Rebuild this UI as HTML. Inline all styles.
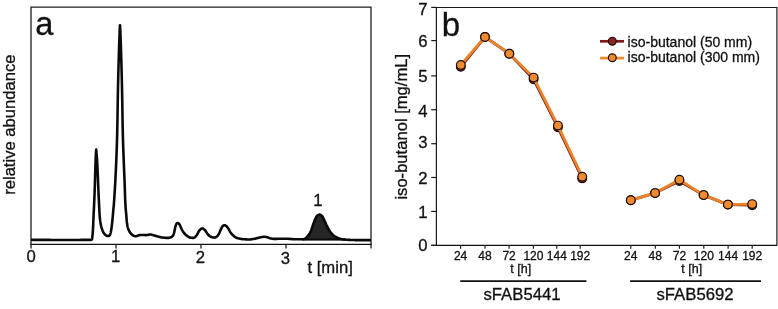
<!DOCTYPE html><html><head><meta charset="utf-8"><style>html,body{margin:0;padding:0;background:#fff;overflow:hidden}svg{display:block}text{stroke:#111;stroke-width:0.3px}</style></head><body>
<div style="will-change:transform;width:778px;height:309px"><svg width="778" height="309" viewBox="0 0 778 309" font-family="Liberation Sans"><g>
<rect width="778" height="309" fill="#fff"/>
<path d="M31,244.4 V7.2 H371 V244.4" fill="none" stroke="#1e1e1e" stroke-width="1.3"/>
<path d="M30.4,244.4 H371.6" stroke="#111" stroke-width="1.1"/>
<path d="M31,244 V248.6" stroke="#1e1e1e" stroke-width="1.3"/>
<path d="M116,244 V248.6" stroke="#1e1e1e" stroke-width="1.3"/>
<path d="M201,244 V248.6" stroke="#1e1e1e" stroke-width="1.3"/>
<path d="M286,244 V248.6" stroke="#1e1e1e" stroke-width="1.3"/>
<path d="M371,244 V248.6" stroke="#1e1e1e" stroke-width="1.3"/>
<text x="31.2" y="262" font-size="16.7" text-anchor="middle" fill="#111">0</text>
<text x="115.6" y="262.2" font-size="16.7" text-anchor="middle" fill="#111">1</text>
<text x="200.3" y="262.8" font-size="16.7" text-anchor="middle" fill="#111">2</text>
<text x="285.3" y="263.6" font-size="16.7" text-anchor="middle" fill="#111">3</text>
<text x="307.4" y="272.6" font-size="16.7" fill="#111">t [min]</text>
<text transform="translate(14.9,194.8) rotate(-90)" font-size="16.6" fill="#111">relative abundance</text>
<text x="35.2" y="35" font-size="32.6" fill="#111">a</text>
<path d="M301,240.3 L301,239.3 L301.5,239.3 L302,239.3 L302.5,239.3 L303,239.2 L303.5,239.2 L304,239.1 L304.5,238.9 L305,238.7 L305.5,238.4 L306,238 L306.5,237.5 L307,237 L307.5,236.4 L308,235.8 L308.5,235.2 L309,234.5 L309.5,233.8 L310,232.9 L310.5,231.9 L311,230.8 L311.5,229.5 L312,228 L312.5,226.4 L313,224.9 L313.5,223.5 L314,222.1 L314.5,220.8 L315,219.5 L315.5,218.5 L316,217.5 L316.5,216.6 L317,215.9 L317.5,215.5 L318,215.1 L318.5,214.9 L319,214.7 L319.5,214.6 L320,214.6 L320.5,214.8 L321,215.1 L321.5,215.5 L322,215.9 L322.5,216.6 L323,217.6 L323.5,218.6 L324,219.6 L324.5,220.7 L325,221.8 L325.5,222.9 L326,224 L326.5,225.1 L327,226.1 L327.5,227.1 L328,228.1 L328.5,229 L329,229.9 L329.5,230.7 L330,231.5 L330.5,232.2 L331,232.9 L331.5,233.5 L332,234 L332.5,234.5 L333,235 L333.5,235.4 L334,235.8 L334.5,236.1 L335,236.5 L335.5,236.8 L336,237 L336.5,237.3 L337,237.6 L337.5,237.8 L338,238 L338.5,238.2 L339,238.4 L339.5,238.6 L340,238.7 L340.5,238.9 L341,239 L341.5,239.1 L342,239.2 L342.5,239.3 L343,239.4 L343.5,239.4 L344,239.5 L344.5,239.5 L345,239.6 L345.5,239.6 L346,239.7 L346.5,239.7 L347,239.8 L347.5,239.8 L348,239.8 L348.5,239.9 L349,239.9 L349.5,239.9 L350,239.9 L350.5,240 L351,240 L351.5,240 L352,240 L352.5,240 L353,240 L353.5,240 L354,240 L354.5,240 L355,240.1 L355.5,240.1 L356,240.3 Z" fill="#262626"/>
<path d="M303,239.6 H346" stroke="#0a0a0a" stroke-width="2"/>
<path d="M31,239.8 L34,239.9 L37,239.9 L40,239.9 L43,239.9 L46,239.9 L49,239.9 L52,240 L55,240 L58,240 L61,240 L64,240 L67,240 L70,240 L73,240 L76,240 L79,240 L82,239.9 L85,239.9 L88,239.9 L91,239.9 L91.2,239.9 L91.4,239.8 L91.6,239.7 L91.8,239.5 L92,239.2 L92.2,238.2 L92.4,236.5 L92.6,234.4 L92.8,231.8 L93,228.6 L93.2,224.5 L93.4,219.7 L93.6,215 L93.8,210.7 L94,206.6 L94.2,202.3 L94.4,197.6 L94.6,192.6 L94.8,187 L95,180.3 L95.2,173.3 L95.4,166.5 L95.6,160.7 L95.8,155.9 L96,152.1 L96.2,149.6 L96.4,151.7 L96.6,154.6 L96.8,156.9 L97,159.2 L97.2,162 L97.4,165.7 L97.6,170.2 L97.8,175.1 L98,180 L98.2,185 L98.4,190.2 L98.6,195 L98.8,199.2 L99,203 L99.2,207.1 L99.4,211.5 L99.6,215 L99.8,217.3 L100,219.2 L100.2,220.9 L100.4,222.3 L100.6,223.5 L100.8,224.6 L101,225.6 L101.2,226.5 L101.4,227.2 L101.6,228 L101.8,228.6 L102,229.2 L102.2,229.7 L102.4,230.3 L102.6,230.8 L102.8,231.2 L103,231.6 L103.2,232 L103.4,232.4 L103.6,232.7 L103.8,233.1 L104,233.3 L104.2,233.6 L104.4,233.9 L104.6,234.1 L104.8,234.3 L105,234.6 L105.2,234.7 L105.4,234.9 L105.6,235.1 L105.8,235.2 L106,235.4 L106.2,235.5 L106.4,235.7 L106.6,235.8 L106.8,235.9 L107,235.9 L107.2,235.9 L107.4,235.9 L107.6,236 L107.8,236 L108,236 L108.2,236 L108.4,236 L108.6,236 L108.8,235.9 L109,235.8 L109.2,235.6 L109.4,235.5 L109.6,235.3 L109.8,235.1 L110,234.7 L110.2,234.2 L110.4,233.7 L110.6,233.1 L110.8,232.3 L111,231.2 L111.2,230 L111.4,228.7 L111.6,227.2 L111.8,225.7 L112,224 L112.2,222.2 L112.4,220.3 L112.6,218.3 L112.8,216.1 L113,213.8 L113.2,211.2 L113.4,209 L113.6,207.1 L113.8,205 L114,202.5 L114.2,199.6 L114.4,196.5 L114.6,193.4 L114.8,190.2 L115,186.8 L115.2,183.2 L115.4,179.4 L115.6,175.5 L115.8,171.4 L116,167 L116.2,162.4 L116.4,157.5 L116.6,152.4 L116.8,146.8 L117,140.5 L117.2,132.9 L117.4,122.8 L117.6,110.8 L117.8,97.9 L118,87.3 L118.2,78.6 L118.4,70.8 L118.6,63.6 L118.8,56.5 L119,49.7 L119.2,43.5 L119.4,38.1 L119.6,32.8 L119.8,28 L120,25.2 L120.2,28 L120.4,32.8 L120.6,38.1 L120.8,43.5 L121,49.7 L121.2,56.5 L121.4,63.6 L121.6,70.8 L121.8,78.6 L122,87.3 L122.2,97.9 L122.4,110.8 L122.6,122.8 L122.8,132.9 L123,140.4 L123.2,146.6 L123.4,152.1 L123.6,157.3 L123.8,162.6 L124,167.6 L124.2,172.4 L124.4,177.3 L124.6,182.3 L124.8,188 L125,194.5 L125.2,200 L125.4,204 L125.6,207.3 L125.8,210 L126,212.1 L126.2,213.9 L126.4,216.3 L126.6,219.3 L126.8,221.7 L127,223.3 L127.2,224.6 L127.4,225.7 L127.6,226.6 L127.8,227.4 L128,228.1 L128.2,228.7 L128.4,229.3 L128.6,229.7 L128.8,230.2 L129,230.6 L129.2,231 L129.4,231.4 L129.6,231.8 L129.8,232.1 L130,232.5 L130.2,232.7 L130.4,233 L130.6,233.3 L130.8,233.5 L131,233.7 L131.2,234 L131.4,234.2 L131.6,234.4 L131.8,234.5 L132,234.7 L132.2,234.9 L132.4,235 L132.6,235.2 L132.8,235.3 L133,235.4 L133.2,235.5 L133.4,235.6 L133.6,235.7 L133.8,235.8 L134,235.9 L134.2,236 L134.4,236.1 L134.6,236.2 L134.8,236.2 L135,236.3 L135.2,236.3 L135.4,236.3 L135.6,236.3 L135.8,236.3 L136,236.2 L136.5,236.1 L137,235.9 L137.5,235.8 L138,235.6 L138.5,235.3 L139,235.2 L139.5,235.1 L140,235.1 L140.5,235 L141,235 L141.5,235 L142,235 L142.5,235 L143,235 L143.5,235 L144,235 L144.5,235 L145,235.1 L145.5,235.1 L146,235.1 L146.5,235.1 L147,235 L147.5,235 L148,234.9 L148.5,234.7 L149,234.6 L149.5,234.6 L150,234.5 L150.5,234.5 L151,234.6 L151.5,234.7 L152,234.8 L152.5,234.9 L153,235.1 L153.5,235.3 L154,235.4 L154.5,235.5 L155,235.7 L155.5,235.8 L156,236 L156.5,236.1 L157,236.3 L157.5,236.4 L158,236.6 L158.5,236.7 L159,236.8 L159.5,236.9 L160,237 L160.5,237.2 L161,237.3 L161.5,237.4 L162,237.5 L162.5,237.5 L163,237.6 L163.5,237.7 L164,237.7 L164.5,237.8 L165,237.8 L165.5,237.8 L166,237.9 L166.5,237.9 L167,237.9 L167.5,237.9 L168,237.9 L168.5,237.9 L169,237.8 L169.5,237.7 L170,237.6 L170.5,237.5 L171,237.3 L171.5,237.1 L172,236.7 L172.5,236.2 L173,235.5 L173.5,234.6 L174,233.3 L174.5,230.9 L175,228.3 L175.5,226.3 L176,224.8 L176.5,223.7 L177,223.3 L177.5,223 L178,223.1 L178.5,223.3 L179,223.7 L179.5,224.4 L180,225.3 L180.5,226.6 L181,227.9 L181.5,228.9 L182,229.8 L182.5,230.7 L183,231.5 L183.5,232.2 L184,232.9 L184.5,233.5 L185,234 L185.5,234.6 L186,235.1 L186.5,235.5 L187,235.9 L187.5,236.2 L188,236.5 L188.5,236.8 L189,237.1 L189.5,237.4 L190,237.5 L190.5,237.7 L191,237.7 L191.5,237.8 L192,237.8 L192.5,237.9 L193,237.9 L193.5,237.9 L194,237.8 L194.5,237.6 L195,237.2 L195.5,236.7 L196,236.1 L196.5,235.5 L197,234.8 L197.5,234 L198,232.9 L198.5,231.9 L199,230.9 L199.5,230.3 L200,229.8 L200.5,229.3 L201,228.8 L201.5,228.5 L202,228.4 L202.5,228.5 L203,228.6 L203.5,229 L204,229.3 L204.5,229.7 L205,230.2 L205.5,230.8 L206,231.6 L206.5,232.4 L207,233.2 L207.5,233.9 L208,234.5 L208.5,235 L209,235.5 L209.5,236 L210,236.3 L210.5,236.6 L211,236.8 L211.5,237.1 L212,237.2 L212.5,237.3 L213,237.4 L213.5,237.5 L214,237.6 L214.5,237.6 L215,237.5 L215.5,237.4 L216,237.1 L216.5,236.8 L217,236.4 L217.5,235.9 L218,235.2 L218.5,234.5 L219,233.6 L219.5,232.5 L220,231.3 L220.5,230.2 L221,229.2 L221.5,228 L222,227 L222.5,226.3 L223,225.9 L223.5,225.5 L224,225.3 L224.5,225.2 L225,225.3 L225.5,225.5 L226,225.8 L226.5,226.2 L227,226.8 L227.5,227.4 L228,228.1 L228.5,228.9 L229,229.8 L229.5,230.7 L230,231.6 L230.5,232.4 L231,233.1 L231.5,233.7 L232,234.3 L232.5,234.8 L233,235.3 L233.5,235.7 L234,236.2 L234.5,236.6 L235,236.9 L235.5,237.3 L236,237.6 L236.5,237.8 L237,238 L237.5,238.1 L238,238.3 L238.5,238.4 L239,238.5 L239.5,238.6 L240,238.7 L240.5,238.8 L241,238.9 L241.5,239 L242,239.1 L242.5,239.1 L243,239.2 L243.5,239.2 L244,239.2 L244.5,239.3 L245,239.3 L245.5,239.3 L246,239.4 L246.5,239.4 L247,239.4 L247.5,239.5 L248,239.5 L248.5,239.5 L249,239.5 L249.5,239.5 L250,239.5 L250.5,239.4 L251,239.4 L251.5,239.3 L252,239.2 L252.5,239.1 L253,239 L253.5,239 L254,238.9 L254.5,238.8 L255,238.7 L255.5,238.5 L256,238.4 L256.5,238.3 L257,238.2 L257.5,238 L258,237.9 L258.5,237.8 L259,237.7 L259.5,237.5 L260,237.4 L260.5,237.3 L261,237.2 L261.5,237.1 L262,237 L262.5,237 L263,236.9 L263.5,236.8 L264,236.8 L264.5,236.8 L265,236.8 L265.5,236.9 L266,237 L266.5,237.1 L267,237.2 L267.5,237.3 L268,237.5 L268.5,237.7 L269,237.9 L269.5,238.1 L270,238.3 L270.5,238.4 L271,238.5 L271.5,238.6 L272,238.7 L272.5,238.8 L273,238.8 L273.5,238.9 L274,238.9 L274.5,238.9 L275,238.9 L275.5,238.9 L276,238.9 L276.5,238.9 L277,238.9 L277.5,238.8 L278,238.8 L278.5,238.8 L279,238.8 L279.5,238.8 L280,238.8 L280.5,238.8 L281,238.8 L281.5,238.8 L282,238.8 L282.5,238.8 L283,238.8 L283.5,238.8 L284,238.8 L284.5,238.8 L285,238.8 L285.5,238.8 L286,238.8 L286.5,238.8 L287,238.8 L287.5,238.8 L288,238.8 L288.5,238.8 L289,238.9 L289.5,238.9 L290,238.9 L290.5,239 L291,239 L291.5,239.1 L292,239.1 L292.5,239.1 L293,239.2 L293.5,239.2 L294,239.2 L294.5,239.2 L295,239.2 L295.5,239.2 L296,239.2 L296.5,239.3 L297,239.3 L297.5,239.3 L298,239.3 L298.5,239.3 L299,239.3 L299.5,239.3 L300,239.3 L300.5,239.3 L301,239.3 L301.5,239.3 L302,239.3 L302.5,239.3 L303,239.2 L303.5,239.2 L304,239.1 L304.5,238.9 L305,238.7 L305.5,238.4 L306,238 L306.5,237.5 L307,237 L307.5,236.4 L308,235.8 L308.5,235.2 L309,234.5 L309.5,233.8 L310,232.9 L310.5,231.9 L311,230.8 L311.5,229.5 L312,228 L312.5,226.4 L313,224.9 L313.5,223.5 L314,222.1 L314.5,220.8 L315,219.5 L315.5,218.5 L316,217.5 L316.5,216.6 L317,215.9 L317.5,215.5 L318,215.1 L318.5,214.9 L319,214.7 L319.5,214.6 L320,214.6 L320.5,214.8 L321,215.1 L321.5,215.5 L322,215.9 L322.5,216.6 L323,217.6 L323.5,218.6 L324,219.6 L324.5,220.7 L325,221.8 L325.5,222.9 L326,224 L326.5,225.1 L327,226.1 L327.5,227.1 L328,228.1 L328.5,229 L329,229.9 L329.5,230.7 L330,231.5 L330.5,232.2 L331,232.9 L331.5,233.5 L332,234 L332.5,234.5 L333,235 L333.5,235.4 L334,235.8 L334.5,236.1 L335,236.5 L335.5,236.8 L336,237 L336.5,237.3 L337,237.6 L337.5,237.8 L338,238 L338.5,238.2 L339,238.4 L339.5,238.6 L340,238.7 L340.5,238.9 L341,239 L341.5,239.1 L342,239.2 L342.5,239.3 L343,239.4 L343.5,239.4 L344,239.5 L344.5,239.5 L345,239.6 L345.5,239.6 L346,239.7 L346.5,239.7 L347,239.8 L347.5,239.8 L348,239.8 L348.5,239.9 L349,239.9 L349.5,239.9 L350,239.9 L350.5,240 L351,240 L351.5,240 L352,240 L352.5,240 L353,240 L353.5,240 L354,240 L354.5,240 L355,240.1 L355.5,240.1 L356,240.1 L356.5,240.1 L357,240.1 L357.5,240.1 L358,240.1 L358.5,240.1 L359,240.1 L359.5,240.1 L360,240.1 L360.5,240.1 L361,240.1 L361.5,240.1 L362,240.1 L362.5,240.1 L363,240.1 L363.5,240.1 L364,240.1 L364.5,240.1 L365,240.1 L365.5,240.1 L366,240.1 L366.5,240.1 L367,240.1 L367.5,240.1 L368,240.1 L368.5,240.1 L369,240.1 L369.5,240.1 L370,240.1 L370.5,240.1 L371,240.1" fill="none" stroke="#0a0a0a" stroke-width="2.6" stroke-linejoin="round"/>
<text x="318" y="206" font-size="16.7" text-anchor="middle" fill="#111">1</text>
<path d="M436.4,245 V7.5 H776.9 V245" fill="none" stroke="#1a1a1a" stroke-width="1.2"/>
<path d="M431.2,245.3 H777.2" stroke="#111" stroke-width="1.2"/>
<path d="M431.2,245.4 H436.4" stroke="#1a1a1a" stroke-width="1.2"/>
<text x="427.6" y="251.4" font-size="16.7" text-anchor="end" fill="#111">0</text>
<path d="M431.2,211.4 H436.4" stroke="#1a1a1a" stroke-width="1.2"/>
<text x="427.6" y="217.9" font-size="16.7" text-anchor="end" fill="#111">1</text>
<path d="M431.2,177.5 H436.4" stroke="#1a1a1a" stroke-width="1.2"/>
<text x="427.6" y="183.9" font-size="16.7" text-anchor="end" fill="#111">2</text>
<path d="M431.2,143.7 H436.4" stroke="#1a1a1a" stroke-width="1.2"/>
<text x="427.6" y="147.6" font-size="16.7" text-anchor="end" fill="#111">3</text>
<path d="M431.2,109.7 H436.4" stroke="#1a1a1a" stroke-width="1.2"/>
<text x="427.6" y="116.6" font-size="16.7" text-anchor="end" fill="#111">4</text>
<path d="M431.2,75.9 H436.4" stroke="#1a1a1a" stroke-width="1.2"/>
<text x="427.6" y="81.8" font-size="16.7" text-anchor="end" fill="#111">5</text>
<path d="M431.2,40.6 H436.4" stroke="#1a1a1a" stroke-width="1.2"/>
<text x="427.6" y="46.7" font-size="16.7" text-anchor="end" fill="#111">6</text>
<path d="M431.2,7.4 H436.4" stroke="#1a1a1a" stroke-width="1.2"/>
<text x="427.6" y="14.9" font-size="16.7" text-anchor="end" fill="#111">7</text>
<text transform="translate(407,199.6) rotate(-90)" font-size="16.6" fill="#111">iso-butanol [mg/mL]</text>
<text x="441.7" y="35.8" font-size="33" fill="#111">b</text>
<path d="M460.6,245 V248.8" stroke="#222" stroke-width="1.2"/>
<text x="460.6" y="259.8" font-size="12" text-anchor="middle" fill="#111">24</text>
<path d="M485,245 V248.8" stroke="#222" stroke-width="1.2"/>
<text x="485" y="259.8" font-size="12" text-anchor="middle" fill="#111">48</text>
<path d="M509.1,245 V248.8" stroke="#222" stroke-width="1.2"/>
<text x="509.1" y="259.8" font-size="12" text-anchor="middle" fill="#111">72</text>
<path d="M533.4,245 V248.8" stroke="#222" stroke-width="1.2"/>
<text x="533.4" y="259.8" font-size="12" text-anchor="middle" fill="#111">120</text>
<path d="M556.8,245 V248.8" stroke="#222" stroke-width="1.2"/>
<text x="556.8" y="259.8" font-size="12" text-anchor="middle" fill="#111">144</text>
<path d="M580.2,245 V248.8" stroke="#222" stroke-width="1.2"/>
<text x="580.2" y="259.8" font-size="12" text-anchor="middle" fill="#111">192</text>
<path d="M630.8,245 V248.8" stroke="#222" stroke-width="1.2"/>
<text x="630.8" y="259.8" font-size="12" text-anchor="middle" fill="#111">24</text>
<path d="M655.3,245 V248.8" stroke="#222" stroke-width="1.2"/>
<text x="655.3" y="259.8" font-size="12" text-anchor="middle" fill="#111">48</text>
<path d="M679.4,245 V248.8" stroke="#222" stroke-width="1.2"/>
<text x="679.4" y="259.8" font-size="12" text-anchor="middle" fill="#111">72</text>
<path d="M703.8,245 V248.8" stroke="#222" stroke-width="1.2"/>
<text x="703.8" y="259.8" font-size="12" text-anchor="middle" fill="#111">120</text>
<path d="M728.1,245 V248.8" stroke="#222" stroke-width="1.2"/>
<text x="728.1" y="259.8" font-size="12" text-anchor="middle" fill="#111">144</text>
<path d="M752.2,245 V248.8" stroke="#222" stroke-width="1.2"/>
<text x="752.2" y="259.8" font-size="12" text-anchor="middle" fill="#111">192</text>
<text x="520.7" y="273.2" font-size="12.5" text-anchor="middle" fill="#111">t [h]</text>
<text x="691.7" y="273.2" font-size="12.5" text-anchor="middle" fill="#111">t [h]</text>
<path d="M460.3,281.1 H586.4 M630.1,281.1 H761" stroke="#111" stroke-width="1.7"/>
<text x="522" y="299.7" font-size="16.7" text-anchor="middle" fill="#111">sFAB5441</text>
<text x="695" y="299.5" font-size="16.7" text-anchor="middle" fill="#111">sFAB5692</text>
<path d="M460.8,66.8 L485,37 L509.3,53.7 L533.6,79.3 L557.9,127.3 L582.2,178.4" fill="none" stroke="#7a1c1c" stroke-width="2.8" stroke-linejoin="round"/>
<path d="M630.8,200.2 L655.1,193.1 L679.4,181 L703.6,195.1 L727.9,204.6 L752.2,205.2" fill="none" stroke="#7a1c1c" stroke-width="2.8" stroke-linejoin="round"/>
<circle cx="460.8" cy="66.8" r="4.35" fill="#7a1c1c" stroke="#1a0c06" stroke-width="1.2"/>
<circle cx="485" cy="37" r="4.35" fill="#7a1c1c" stroke="#1a0c06" stroke-width="1.2"/>
<circle cx="509.3" cy="53.7" r="4.35" fill="#7a1c1c" stroke="#1a0c06" stroke-width="1.2"/>
<circle cx="533.6" cy="79.3" r="4.35" fill="#7a1c1c" stroke="#1a0c06" stroke-width="1.2"/>
<circle cx="557.9" cy="127.3" r="4.35" fill="#7a1c1c" stroke="#1a0c06" stroke-width="1.2"/>
<circle cx="582.2" cy="178.4" r="4.35" fill="#7a1c1c" stroke="#1a0c06" stroke-width="1.2"/>
<circle cx="630.8" cy="200.2" r="4.35" fill="#7a1c1c" stroke="#1a0c06" stroke-width="1.2"/>
<circle cx="655.1" cy="193.1" r="4.35" fill="#7a1c1c" stroke="#1a0c06" stroke-width="1.2"/>
<circle cx="679.4" cy="181" r="4.35" fill="#7a1c1c" stroke="#1a0c06" stroke-width="1.2"/>
<circle cx="703.6" cy="195.1" r="4.35" fill="#7a1c1c" stroke="#1a0c06" stroke-width="1.2"/>
<circle cx="727.9" cy="204.6" r="4.35" fill="#7a1c1c" stroke="#1a0c06" stroke-width="1.2"/>
<circle cx="752.2" cy="205.2" r="4.35" fill="#7a1c1c" stroke="#1a0c06" stroke-width="1.2"/>
<path d="M460.8,65 L485,37 L509.3,53.7 L533.6,77.6 L557.9,125.6 L582.2,176.7" fill="none" stroke="#e9832a" stroke-width="2.8" stroke-linejoin="round"/>
<path d="M630.8,200.2 L655.1,193.1 L679.4,179.7 L703.6,195.1 L727.9,204.6 L752.2,204.1" fill="none" stroke="#e9832a" stroke-width="2.8" stroke-linejoin="round"/>
<circle cx="460.8" cy="65" r="4.35" fill="#ef8a2e" stroke="#1a0c06" stroke-width="1.2"/>
<circle cx="485" cy="37" r="4.35" fill="#ef8a2e" stroke="#1a0c06" stroke-width="1.2"/>
<circle cx="509.3" cy="53.7" r="4.35" fill="#ef8a2e" stroke="#1a0c06" stroke-width="1.2"/>
<circle cx="533.6" cy="77.6" r="4.35" fill="#ef8a2e" stroke="#1a0c06" stroke-width="1.2"/>
<circle cx="557.9" cy="125.6" r="4.35" fill="#ef8a2e" stroke="#1a0c06" stroke-width="1.2"/>
<circle cx="582.2" cy="176.7" r="4.35" fill="#ef8a2e" stroke="#1a0c06" stroke-width="1.2"/>
<circle cx="630.8" cy="200.2" r="4.35" fill="#ef8a2e" stroke="#1a0c06" stroke-width="1.2"/>
<circle cx="655.1" cy="193.1" r="4.35" fill="#ef8a2e" stroke="#1a0c06" stroke-width="1.2"/>
<circle cx="679.4" cy="179.7" r="4.35" fill="#ef8a2e" stroke="#1a0c06" stroke-width="1.2"/>
<circle cx="703.6" cy="195.1" r="4.35" fill="#ef8a2e" stroke="#1a0c06" stroke-width="1.2"/>
<circle cx="727.9" cy="204.6" r="4.35" fill="#ef8a2e" stroke="#1a0c06" stroke-width="1.2"/>
<circle cx="752.2" cy="204.1" r="4.35" fill="#ef8a2e" stroke="#1a0c06" stroke-width="1.2"/>
<path d="M600,41.3 H624" stroke="#7a1c1c" stroke-width="2.7"/>
<circle cx="612.3" cy="41.3" r="3.9" fill="#8b2323" stroke="#1a0c06" stroke-width="1.2"/>
<path d="M600,58.1 H624" stroke="#ef8a2e" stroke-width="2.7"/>
<circle cx="612.3" cy="57.8" r="3.9" fill="#ef8a2e" stroke="#1a0c06" stroke-width="1.2"/>
<text x="627.6" y="46.5" font-size="14" fill="#111">iso-butanol (50 mm)</text>
<text x="627.6" y="62" font-size="14" fill="#111">iso-butanol (300 mm)</text>
</g></svg></div></body></html>
